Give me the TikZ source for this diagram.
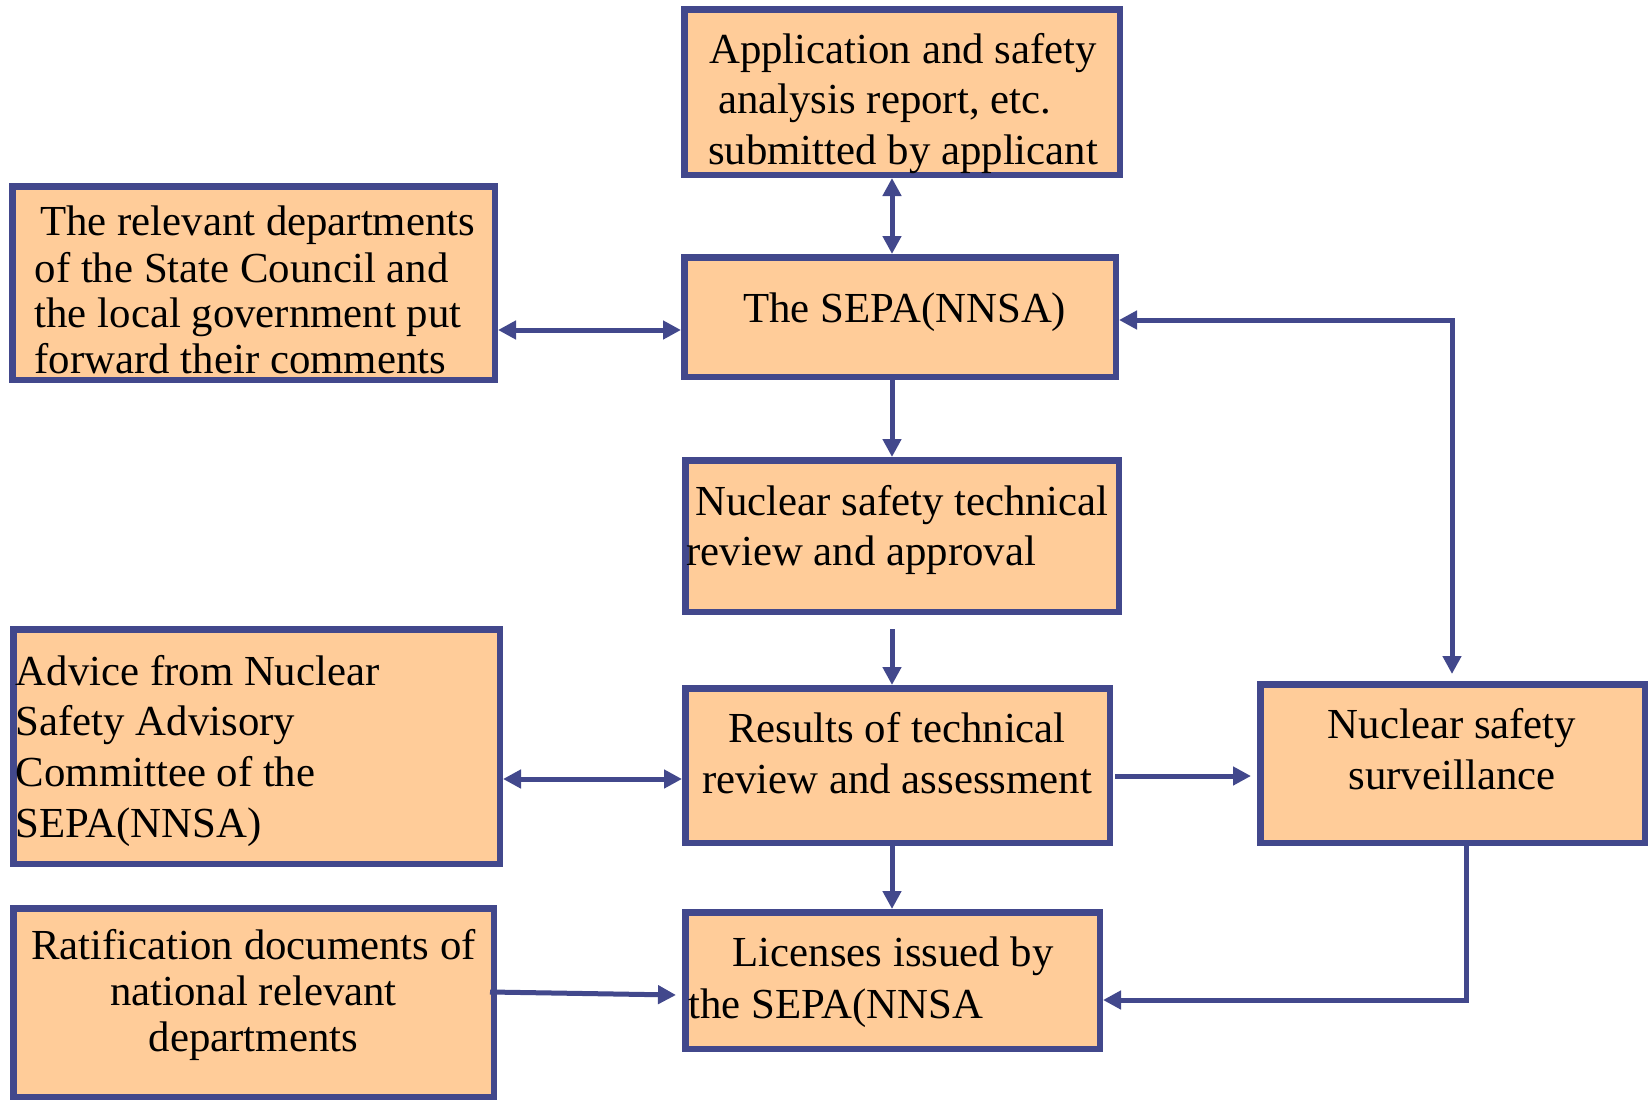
\documentclass[tikz,border=0pt]{standalone}
\usepackage{fontspec}
\setmainfont{Liberation Serif}
\usetikzlibrary{arrows.meta}
\definecolor{edgeblue}{RGB}{66,72,140}
\definecolor{peach}{RGB}{255,204,153}
\begin{document}
\begin{tikzpicture}[x=1pt,y=-1pt,
  box/.style={draw=edgeblue, fill=peach, line width=6.5pt, rectangle, inner sep=0pt, anchor=north west},
  txt/.style={inner sep=0pt, font=\fontsize{42.8}{50}\selectfont, anchor=base west},
  ctxt/.style={txt, anchor=base},
  conn/.style={draw=edgeblue, line width=5pt},
  arr/.style={conn, -{Triangle[length=18pt,width=18pt]}},
  darr/.style={conn, {Triangle[length=18pt,width=18pt]}-{Triangle[length=18pt,width=18pt]}}
]
\useasboundingbox (0,0) rectangle (1650,1100);
\fill[white] (0,0) rectangle (1650,1100);

% boxes (anchored at outer corner)
\node[box, minimum width=435.5pt, minimum height=165.5pt] (app) at (681,6) {};
\node[box, minimum width=482.5pt, minimum height=193.5pt] (dept) at (9,183) {};
\node[box, minimum width=431.5pt, minimum height=119.5pt] (sepa) at (681,254) {};
\node[box, minimum width=433.5pt, minimum height=151.5pt] (tech) at (682,457) {};
\node[box, minimum width=424.5pt, minimum height=154.5pt] (res) at (682,685) {};
\node[box, minimum width=384.5pt, minimum height=158.5pt] (surv) at (1257,681) {};
\node[box, minimum width=486.5pt, minimum height=234.5pt] (adv) at (10,626) {};
\node[box, minimum width=480.5pt, minimum height=188.5pt] (rat) at (10,905) {};
\node[box, minimum width=414.5pt, minimum height=136.5pt] (lic) at (682,909) {};

% texts
\node[txt] (app1) at (709,63) {Application and safety};
\node[txt] (app2) at (718,113) {analysis report, etc.};
\node[txt] (app3) at (708,164) {submitted by applicant};

\node[txt] (sepa1) at (743,322) {The SEPA(NNSA)};

\node[txt] (dept1) at (40,235) {The relevant departments};
\node[txt] (dept2) at (34.5,282) {of the State Council and};
\node[txt] (dept3) at (34.5,327) {the local government put};
\node[txt] (dept4) at (34.5,373) {forward their comments};

\node[txt] (tech1) at (695,515) {Nuclear safety technical};
\node[txt] (tech2) at (686.5,565) {review and approval};

\node[txt] (res1) at (728,742) {Results of technical};
\node[txt] (res2) at (702,793) {review and assessment};

\node[ctxt] (surv1) at (1452,738) {Nuclear safety};
\node[ctxt] (surv2) at (1452,789) {surveillance};

\node[txt] (adv1) at (15.6,685) {Advice from Nuclear};
\node[txt] (adv2) at (15.6,735) {Safety Advisory};
\node[txt] (adv3) at (15.6,786.7) {Committee of the};
\node[txt] (adv4) at (15.6,837.3) {SEPA(NNSA)};

\node[ctxt] (rat1) at (253.5,959.3) {Ratification documents of};
\node[ctxt] (rat2) at (253.5,1005) {national relevant};
\node[ctxt] (rat3) at (253.5,1051.7) {departments};

\node[txt] (lic1) at (732.5,966.7) {Licenses issued by};
\node[txt] (lic2) at (688.4,1018.3) {the SEPA(NNSA};

% helper coordinates
\coordinate (cx) at (892,0);
\coordinate (cx2) at (1452,0);
\coordinate (cx3) at (1466,0);
\coordinate (ya) at (0,330);
\coordinate (yb) at (0,776);
\coordinate (yc) at (0,320);
\coordinate (yd) at (0,779);
\coordinate (ye) at (0,1000);
\coordinate (yf) at (0,992);
\coordinate (yg) at (0,995);

% connectors
\draw[darr] (app.south -| cx) -- (sepa.north -| cx);
\draw[darr] (dept.east |- ya) -- (sepa.west |- ya);
\draw[arr] (sepa.south -| cx) -- (tech.north -| cx);
\path (tech.south -| cx) ++(0,14) coordinate (g1);
\draw[arr] (g1) -- (res.north -| cx);
\path (res.east |- yb) ++(2,0) coordinate (g2);
\path (surv.west |- yb) ++(-6,0) coordinate (g3);
\draw[arr] (g2) -- (g3);
\path (surv.north -| cx2) ++(0,-7) coordinate (g4);
\draw[darr] (sepa.east |- yc) -- (cx2 |- yc) -- (g4);
\draw[arr] (res.south -| cx) -- (lic.north -| cx);
\draw[arr, line join=miter] (surv.south -| cx3) -- (cx3 |- ye) -- (lic.east |- ye);
\draw[darr] (adv.east |- yd) -- (res.west |- yd);
\path (rat.east |- yf) ++(-7,0) coordinate (g5);
\path (lic.west |- yg) ++(-6,0) coordinate (g6);
\draw[arr] (g5) -- (g6);
\end{tikzpicture}
\end{document}
